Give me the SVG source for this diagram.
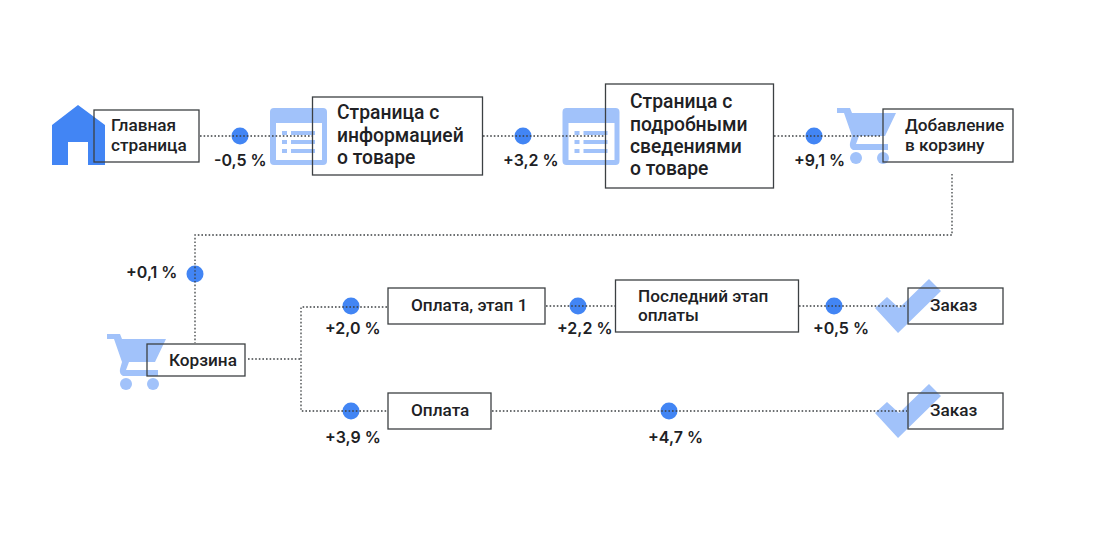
<svg xmlns="http://www.w3.org/2000/svg" width="1101" height="536" viewBox="0 0 1101 536">
<style>
.conn{fill:none;stroke:#3c4043;stroke-width:1.3;stroke-dasharray:1.6 2}
.box{fill:none;stroke:#3c4043;stroke-width:1.3}
.dot{fill:#4285f4}
.lt{fill:#a1c2fa}
.dk{fill:#4285f4}
text{font-family:"Roboto","Liberation Sans",sans-serif;font-weight:500;font-size:17.200px;fill:#202124}
.big{font-size:19.300px}
.pct{font-family:"Inter","Roboto",sans-serif;font-size:16px;font-weight:600}
</style>
<defs>
<g id="sheet"><path class="lt" fill-rule="evenodd" d="M274 108H323a4 4 0 0 1 4 4V161a4 4 0 0 1-4 4H274a4 4 0 0 1-4-4V112a4 4 0 0 1 4-4ZM276 123V160H322V123Z"/><path class="lt" d="M282 131h5v4h-5zM291 131h24v4h-24zM282 140h5v4h-5zM291 140h24v4h-24zM282 149h5v4h-5zM291 149h24v4h-24z"/></g>
<g id="cart"><path class="lt" d="M837 108H850L852 113H896L885 136H859L856 144H888V150H853Q849 148 850 143L852 136L844 113H837Z"/><circle class="lt" cx="856" cy="158" r="6"/><circle class="lt" cx="883" cy="158" r="6"/></g>
<path id="check" class="lt" d="M875 308L887 297L899 308L929 279L941 291L898 333Z"/>
</defs>
<g id="rate-dots">
<circle class="dot" cx="240" cy="136" r="8.500"/>
<circle class="dot" cx="523" cy="136" r="8.500"/>
<circle class="dot" cx="814" cy="136" r="8.500"/>
<circle class="dot" cx="195" cy="274" r="8.500"/>
<circle class="dot" cx="351" cy="306" r="8.500"/>
<circle class="dot" cx="578" cy="306" r="8.500"/>
<circle class="dot" cx="834" cy="306" r="8.500"/>
<circle class="dot" cx="351" cy="411" r="8.500"/>
<circle class="dot" cx="669" cy="411" r="8.500"/>
</g>
<g id="node-home"><path class="dk" d="M78 105L105 125V165H88V142H68V165H52V125Z"/><rect class="box" x="94" y="110" width="105" height="52"/><text x="111" y="131">Главная</text><text x="111" y="151">страница</text></g>
<g id="node-product"><use href="#sheet"/><rect class="box" x="312.500" y="97" width="170" height="78"/><text class="big" x="337" y="119">Страница с</text><text class="big" x="337" y="141.500">информацией</text><text class="big" x="337" y="163.500">о товаре</text></g>
<g id="node-details"><use href="#sheet" x="292.500"/><rect class="box" x="605.500" y="84" width="168" height="104"/><text class="big" x="630" y="108">Страница с</text><text class="big" x="630" y="130.500">подробными</text><text class="big" x="630" y="152.500">сведениями</text><text class="big" x="630" y="174.500">о товаре</text></g>
<g id="node-add"><use href="#cart"/><rect class="box" x="883" y="109" width="130" height="53"/><text x="905" y="131">Добавление</text><text x="905" y="151">в корзину</text></g>
<g id="node-cart"><use href="#cart" x="-730" y="226"/><rect class="box" x="147" y="344" width="98" height="32"/><text x="169" y="366">Корзина</text></g>
<g id="node-pay1"><rect class="box" x="388" y="288" width="157" height="36"/><text x="411" y="311">Оплата, этап 1</text></g>
<g id="node-last"><rect class="box" x="615.500" y="280" width="183" height="52"/><text x="638" y="302">Последний этап</text><text x="638" y="321">оплаты</text></g>
<g id="node-order1"><use href="#check"/><rect class="box" x="908" y="288" width="95" height="36"/><text x="930" y="311">Заказ</text></g>
<g id="node-pay"><rect class="box" x="388" y="393" width="103" height="36"/><text x="411" y="416">Оплата</text></g>
<g id="node-order2"><use href="#check" y="105"/><rect class="box" x="908" y="393" width="95" height="36"/><text x="930" y="416">Заказ</text></g>
<g id="connectors">
<path class="conn" d="M200 136H312"/>
<path class="conn" d="M483 136H605"/>
<path class="conn" d="M774 136H882"/>
<path class="conn" d="M952 174V235H195V343"/>
<path class="conn" d="M248 359H301"/>
<path class="conn" d="M387 307H301V411H387"/>
<path class="conn" d="M546 306H615"/>
<path class="conn" d="M799 306H907"/>
<path class="conn" d="M492 411H907"/>
</g>
<g id="rates">
<text class="pct" x="214" y="166">-0,5 %</text>
<text class="pct" x="503" y="166">+3,2 %</text>
<text class="pct" x="794" y="166">+9,1 %</text>
<text class="pct" x="126" y="278">+0,1 %</text>
<text class="pct" x="325" y="334">+2,0 %</text>
<text class="pct" x="557" y="334">+2,2 %</text>
<text class="pct" x="813" y="334">+0,5 %</text>
<text class="pct" x="325" y="443">+3,9 %</text>
<text class="pct" x="648" y="443">+4,7 %</text>
</g>
</svg>
